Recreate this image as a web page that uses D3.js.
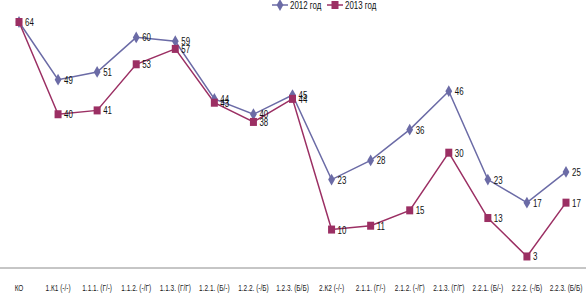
<!DOCTYPE html>
<html>
<head>
<meta charset="utf-8">
<script src="https://cdn.jsdelivr.net/npm/d3@7"></script>
<style>
  body { margin: 0; background: #fff; }
  svg { display: block; font-family: "Liberation Sans", Arial, sans-serif; }
</style>
</head>
<body>
<div id="chart"></div>
<script>
// categories
var categories = ["КО", "1.К1 (-/-)", "1.1.1. (Г/-)", "1.1.2. (-/Г)", "1.1.3. (Г/Г)", "1.2.1. (Б/-)", "1.2.2. (-/Б)",
  "1.2.3. (Б/Б)", "2.К2 (-/-)", "2.1.1. (Г/-)", "2.1.2. (-/Г)", "2.1.3. (Г/Г)", "2.2.1. (Б/-)", "2.2.2. (-/Б)", "2.2.3. (Б/Б)"];
// 2012 год
var values2012 = [64, 49, 51, 60, 59, 44, 40, 45, 23, 28, 36, 46, 23, 17, 25];
// 2013 год
var values2013 = [64, 40, 41, 53, 57, 43, 38, 44, 10, 11, 15, 30, 13, 3, 17];
var seriesNames = ["2012 год", "2013 год"];

var width = 586, height = 294;
var colors = ["#6b6ba6", "#9b2f63"];
var squeeze = 0.72; // narrow font look

var svg = d3.select("#chart").append("svg")
    .attr("width", width)
    .attr("height", height);

var xScale = d3.scalePoint().domain(categories).range([19, 566]);
var yScale = d3.scaleLinear().domain([0, 64]).range([268, 22]);

// x axis line
svg.append("line")
    .attr("x1", 0).attr("x2", width)
    .attr("y1", yScale(0)).attr("y2", yScale(0))
    .attr("stroke", "#8c8c8c")
    .attr("stroke-width", 1);

// category labels
svg.append("g")
    .selectAll("text")
    .data(categories)
    .enter()
    .append("text")
    .attr("transform", d => `translate(${xScale(d)},291) scale(${squeeze},1)`)
    .attr("text-anchor", "middle")
    .attr("font-size", 9)
    .attr("fill", "#222")
    .text(d => d);

var line = d3.line()
    .x((d, i) => xScale(categories[i]))
    .y(d => yScale(d));

var allSeries = [values2012, values2013];

allSeries.forEach(function (vals, s) {
    svg.append("path")
        .attr("d", line(vals))
        .attr("fill", "none")
        .attr("stroke", colors[s])
        .attr("stroke-width", 1.5);
});

// markers: diamonds for 2012, squares for 2013
var diamond = d3.symbol().type(d3.symbolDiamond).size(40);
svg.append("g")
    .selectAll("path")
    .data(values2012)
    .enter()
    .append("path")
    .attr("d", diamond)
    .attr("transform", (d, i) => `translate(${xScale(categories[i])},${yScale(d)})`)
    .attr("fill", colors[0]);

svg.append("g")
    .selectAll("rect")
    .data(values2013)
    .enter()
    .append("rect")
    .attr("x", (d, i) => xScale(categories[i]) - 3.5)
    .attr("y", d => yScale(d) - 4)
    .attr("width", 7)
    .attr("height", 8)
    .attr("fill", colors[1]);

// value labels (2012 label at КО hidden under the 2013 one)
allSeries.forEach(function (vals, s) {
    svg.append("g")
        .selectAll("text")
        .data(vals)
        .enter()
        .append("text")
        .attr("transform", (d, i) => `translate(${xScale(categories[i]) + 6},${yScale(d) + 4}) scale(${squeeze},1)`)
        .attr("font-size", 11)
        .attr("fill", "#111")
        .text((d, i) => (s == 0 && i == 0) ? "" : d);
});

// legend
var legend = svg.append("g");
var legendX = [272, 327];
seriesNames.forEach(function (name, s) {
    var lx = legendX[s];
    legend.append("line")
        .attr("x1", lx).attr("x2", lx + 16)
        .attr("y1", 5).attr("y2", 5)
        .attr("stroke", colors[s])
        .attr("stroke-width", 1.5);
    if (s == 0) {
        legend.append("path")
            .attr("d", diamond)
            .attr("transform", `translate(${lx + 8},5)`)
            .attr("fill", colors[s]);
    } else {
        legend.append("rect")
            .attr("x", lx + 4.5).attr("y", 1)
            .attr("width", 7).attr("height", 8)
            .attr("fill", colors[s]);
    }
    legend.append("text")
        .attr("transform", `translate(${lx + 18},9) scale(${squeeze},1)`)
        .attr("font-size", 11)
        .attr("fill", "#111")
        .text(name);
});
</script>
</body>
</html>
